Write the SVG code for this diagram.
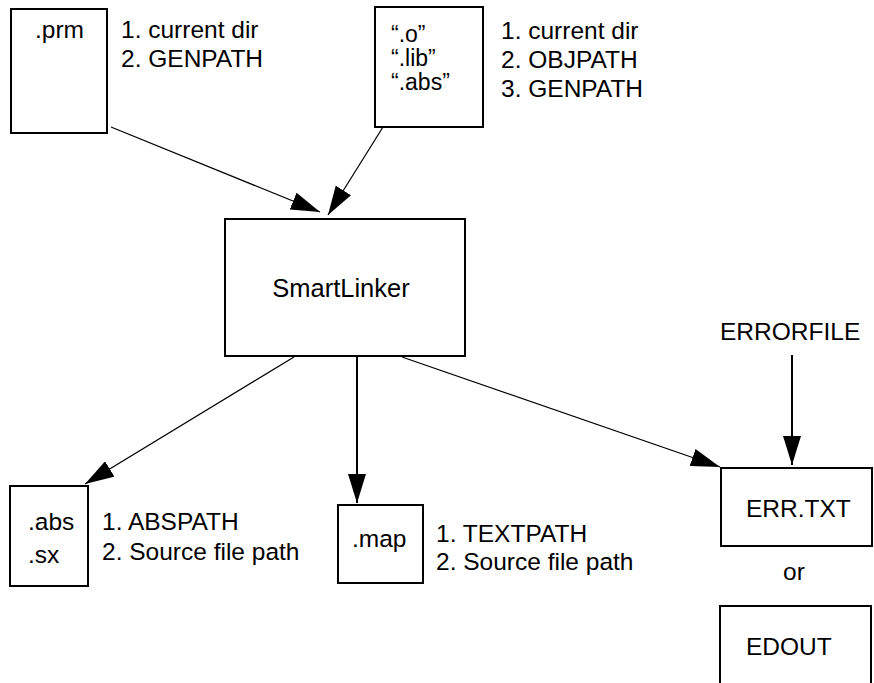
<svg xmlns="http://www.w3.org/2000/svg" width="874" height="683" viewBox="0 0 874 683">
<style>
  .box { fill: #fff; stroke: #000; stroke-width: 2; }
  .t { font-family: "Liberation Sans", Arial, sans-serif; font-size: 24.5px; fill: #000; }
  .s { font-family: "Liberation Sans", Arial, sans-serif; font-size: 23px; fill: #000; }
  .thin { stroke: #000; stroke-width: 1.3; fill: none; }
  .thick { stroke: #000; stroke-width: 2; fill: none; }
</style>
<defs>
  <marker id="ah" markerUnits="userSpaceOnUse" markerWidth="30" markerHeight="18" refX="29" refY="9" orient="auto">
    <path d="M0,0 L29,9 L0,18 z" fill="#000"/>
  </marker>
</defs>
<rect width="874" height="683" fill="#fff"/>

<g id="prm">
  <rect class="box" x="11" y="9" width="96" height="124"/>
  <text class="t" x="35" y="38">.prm</text>
  <text class="t" x="121" y="38">1. current dir</text>
  <text class="t" x="121" y="67">2. GENPATH</text>
</g>

<g id="objfiles">
  <rect class="box" x="375" y="7" width="108" height="120"/>
  <text class="s" x="391" y="42">“.o”</text>
  <text class="s" x="391" y="66">“.lib”</text>
  <text class="s" x="391" y="90">“.abs”</text>
  <text class="t" x="501" y="39">1. current dir</text>
  <text class="t" x="501" y="68">2. OBJPATH</text>
  <text class="t" x="501" y="97">3. GENPATH</text>
</g>

<g id="smartlinker">
  <rect class="box" x="225" y="219" width="240" height="137"/>
  <text class="t" x="341" y="297" text-anchor="middle" style="font-size:25.5px">SmartLinker</text>
</g>

<g id="abs">
  <rect class="box" x="10" y="486" width="78" height="100"/>
  <text class="t" x="28" y="530">.abs</text>
  <text class="t" x="28" y="563">.sx</text>
  <text class="t" x="102" y="530">1. ABSPATH</text>
  <text class="t" x="102" y="560">2. Source file path</text>
</g>

<g id="map">
  <rect class="box" x="338" y="505" width="85" height="78"/>
  <text class="t" x="352" y="547">.map</text>
  <text class="t" x="436" y="542">1. TEXTPATH</text>
  <text class="t" x="436" y="570">2. Source file path</text>
</g>

<g id="errorfile">
  <text class="t" x="720" y="340">ERRORFILE</text>
</g>

<g id="errtxt">
  <rect class="box" x="721" y="468" width="151" height="78"/>
  <text class="t" x="746" y="517">ERR.TXT</text>
</g>

<g id="or">
  <text class="t" x="783" y="580">or</text>
</g>

<g id="edout">
  <rect class="box" x="720" y="606" width="151" height="100"/>
  <text class="t" x="746" y="655">EDOUT</text>
</g>

<g id="connectors">
  <line class="thin" x1="111" y1="127" x2="320" y2="212" marker-end="url(#ah)"/>
  <line class="thin" x1="383" y1="127" x2="328" y2="215" marker-end="url(#ah)"/>
  <line class="thin" x1="294" y1="357" x2="85" y2="484" marker-end="url(#ah)"/>
  <line class="thick" x1="357" y1="357" x2="357" y2="503" marker-end="url(#ah)"/>
  <line class="thin" x1="402" y1="357" x2="720" y2="467" marker-end="url(#ah)"/>
  <line class="thick" x1="792" y1="355" x2="792" y2="465" marker-end="url(#ah)"/>
</g>
</svg>
